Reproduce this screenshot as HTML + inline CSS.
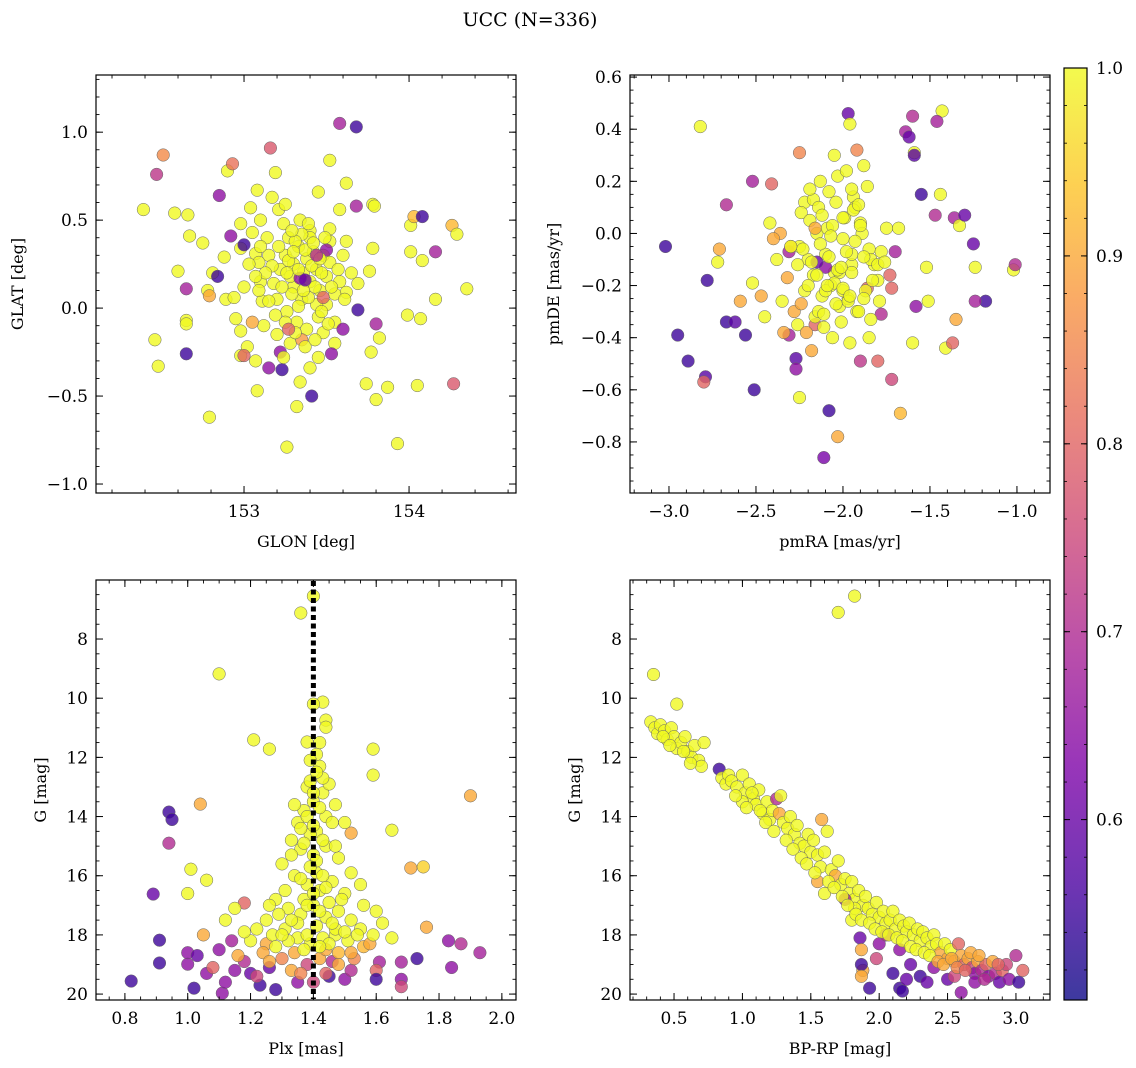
<!DOCTYPE html>
<html><head><meta charset="utf-8"><style>
body{margin:0;background:#fff}
svg{display:block;font-family:"DejaVu Serif","Liberation Serif",serif}
</style></head><body>
<svg id="fig" width="1136" height="1068" viewBox="0 0 1136 1068" xmlns="http://www.w3.org/2000/svg">
<rect width="1136" height="1068" fill="#fff"/>
<text x="530" y="26" font-size="19" text-anchor="middle">UCC (N=336)</text>
<defs><linearGradient id="cbg" x1="0" y1="1" x2="0" y2="0">
<stop offset="0" stop-color="#0d0887"/><stop offset="0.125" stop-color="#4c02a1"/><stop offset="0.25" stop-color="#7e03a8"/><stop offset="0.375" stop-color="#a92395"/><stop offset="0.5" stop-color="#cc4778"/><stop offset="0.625" stop-color="#e66c5c"/><stop offset="0.75" stop-color="#f89540"/><stop offset="0.875" stop-color="#fdc527"/><stop offset="1" stop-color="#f0f921"/>
</linearGradient></defs>
<g id="layer"></g>
</svg>
<script>
// Panel 1: GLON vs GLAT
const p1x=[152.39,152.51,152.47,152.46,152.48,152.58,152.60,152.65,152.65,152.66,152.67,152.65,152.65,152.75,152.78,152.79,152.79,152.81,152.85,152.84,152.88,152.90,152.93,152.89,152.94,152.95,152.92,152.98,152.98,152.98,152.98,153.02,153.00,153.07,153.04,153.05,153.07,153.08,153.10,153.09,153.10,153.11,153.08,153.15,153.16,153.17,153.19,153.21,153.25,153.23,153.26,153.32,153.34,153.40,153.41,153.45,153.50,153.52,153.58,153.68,153.62,153.58,153.45,153.40,153.52,153.62,153.68,153.78,153.79,153.78,153.76,153.69,153.62,153.69,153.80,153.77,153.82,153.74,153.80,153.87,153.93,153.99,154.05,154.07,154.01,154.01,154.03,154.08,154.08,154.16,154.16,154.26,154.29,154.35,154.27,
153.25,153.30,153.33,153.36,153.38,153.40,153.42,153.44,153.46,153.48,153.35,153.30,153.28,153.22,153.20,153.18,153.15,153.26,153.32,153.38,153.45,153.50,153.52,153.55,153.58,153.40,153.35,153.27,153.44,153.12,153.20,153.28,153.48,153.55,153.60,153.14,153.10,153.24,153.52,153.34,153.34,153.22,153.50,153.60,153.05,153.35,153.48,
153.21,153.27,153.31,153.37,153.41,153.47,153.53,153.29,153.33,153.39,153.43,153.47,153.25,153.31,153.37,153.43,153.17,153.13,153.23,153.19,153.15,153.29,153.39,153.49,153.57,153.61,153.55,153.24,153.33,153.36,153.42,153.30,153.26,153.46,153.51,153.09,153.07,153.03,153.00,153.65,153.37,153.44,153.27,153.53,153.00];
const p1y=[0.56,0.87,0.76,-0.18,-0.33,0.54,0.21,0.11,-0.26,0.53,0.41,-0.07,-0.09,0.37,0.10,0.07,-0.62,0.20,0.64,0.18,0.29,0.78,0.82,0.05,0.06,-0.06,0.41,0.34,0.48,-0.13,-0.27,-0.22,-0.27,-0.30,0.57,0.43,0.31,0.67,0.50,0.26,0.15,0.04,-0.47,-0.34,0.91,0.63,0.77,0.56,0.59,-0.35,-0.79,-0.56,-0.42,-0.34,-0.50,-0.28,0.02,0.84,1.05,1.03,0.71,0.56,0.66,0.44,0.38,0.38,0.58,0.59,0.58,0.34,0.21,0.14,0.09,-0.01,-0.09,-0.25,-0.17,-0.43,-0.52,-0.45,-0.77,-0.04,-0.44,-0.06,0.32,0.47,0.52,0.52,0.27,0.05,0.32,0.47,0.42,0.11,-0.43,
0.30,0.25,0.35,0.20,0.28,0.15,0.32,0.22,0.10,0.30,0.05,0.12,0.18,0.22,0.05,0.14,0.30,-0.02,-0.08,-0.12,-0.05,0.18,0.26,0.08,0.15,0.40,0.42,0.40,0.02,-0.10,-0.15,-0.20,-0.14,-0.08,0.30,0.40,0.35,0.48,0.45,0.50,0.17,-0.25,0.33,-0.12,-0.08,-0.18,0.06,
0.35,0.27,0.38,0.33,0.24,0.20,0.12,0.08,0.01,0.06,0.12,-0.02,-0.08,-0.14,-0.22,-0.18,0.24,0.20,0.12,-0.04,0.04,0.44,0.48,0.40,0.22,0.05,-0.20,-0.28,0.22,0.10,0.37,0.32,0.20,0.28,-0.09,0.10,0.18,0.25,0.12,0.20,0.16,0.30,-0.12,-0.26,0.36];
const p1c=[1,0.86,0.72,1,1,1,1,0.68,0.55,1,1,1,1,1,1,0.9,1,1,0.65,0.55,1,1,0.82,1,1,1,0.65,1,1,1,1,1,0.8,1,1,1,1,1,1,1,1,1,1,0.65,0.78,1,1,1,1,0.55,1,1,1,1,0.55,1,1,1,0.68,0.55,1,1,1,1,1,1,0.68,1,1,1,1,1,1,0.55,0.68,1,1,1,1,1,1,1,1,1,1,1,0.92,0.55,1,1,0.68,0.92,1,1,0.78,
1,1,1,1,1,1,1,1,1,1,1,1,1,1,1,1,1,1,1,1,1,1,1,1,1,1,1,1,1,1,1,1,1,1,1,1,1,1,1,1,0.65,0.65,0.65,0.65,0.9,0.88,0.8,
1,1,1,1,1,1,1,1,1,1,1,1,1,1,1,1,1,1,1,1,1,1,1,1,1,1,1,1,1,1,1,1,1,1,1,1,1,1,1,1,0.6,0.7,0.8,0.65,0.55];
// Panel 2: pmRA vs pmDE
const p2x=[-3.02,-2.95,-2.89,-2.82,-2.79,-2.80,-2.78,-2.71,-2.72,-2.67,-2.67,-2.59,-2.56,-2.52,-2.52,-2.51,-2.47,-2.45,-2.41,-2.42,-2.38,-2.35,-2.31,-2.31,-2.27,-2.25,-2.25,-2.22,-2.17,-2.16,-2.08,-2.03,-2.11,-1.97,-1.96,-1.92,-1.90,-1.86,-1.80,-1.78,-1.72,-1.73,-1.70,-1.64,-1.62,-1.60,-1.59,-1.59,-1.58,-1.60,-1.55,-1.44,-1.47,-1.41,-1.37,-1.36,-1.33,-1.30,-1.18,-1.24,-1.25,-1.24,-1.35,-1.02,-1.01,-1.43,-1.46,-1.52,-1.51,-1.67,-2.62,-2.27,
-2.25,-2.20,-2.15,-2.10,-2.05,-2.00,-1.95,-1.90,-1.85,-1.80,-1.75,-2.22,-2.17,-2.12,-2.07,-2.02,-1.97,-1.92,-1.87,-1.82,-2.28,-2.24,-2.19,-2.14,-2.09,-2.04,-1.99,-1.94,-1.89,-1.84,-1.79,-2.26,-2.21,-2.16,-2.11,-2.06,-2.01,-1.96,-1.91,-1.86,-2.13,-2.08,-2.03,-1.98,-1.93,-1.88,-2.18,-2.02,-1.95,-2.05,-2.32,-2.36,-1.72,-1.68,-2.10,-1.95,-2.00,-2.15,-1.85,-1.78,-2.30,-2.40,
-2.23,-2.18,-2.13,-2.08,-2.03,-1.98,-1.93,-1.88,-1.83,-2.20,-2.15,-2.10,-2.05,-2.00,-1.95,-1.90,-2.12,-2.06,-2.00,-1.94,-1.88,-2.24,-2.14,-2.04,-1.97,-1.84,-2.16,-2.26,-2.30,-1.80,-1.76,-2.01,-2.07,-1.96,-2.11,-1.91,-2.19,-2.09,-2.34,-1.87];
const p2y=[-0.05,-0.39,-0.49,0.41,-0.55,-0.57,-0.18,-0.06,-0.11,0.11,-0.34,-0.26,-0.39,0.20,-0.19,-0.60,-0.24,-0.32,0.19,0.04,-0.10,-0.26,-0.07,-0.39,-0.48,0.31,-0.63,0.12,0.13,-0.35,-0.68,-0.78,-0.86,0.46,0.42,0.32,-0.49,-0.21,-0.49,-0.31,-0.56,-0.16,-0.07,0.39,0.37,0.45,0.31,0.30,-0.28,-0.42,0.15,0.15,0.07,-0.44,-0.42,0.06,0.03,0.07,-0.26,-0.26,-0.04,-0.13,-0.33,-0.14,-0.12,0.47,0.43,-0.13,-0.26,-0.69,-0.34,-0.52,
-0.05,-0.10,0.00,-0.08,-0.15,-0.02,-0.12,0.04,-0.06,-0.18,0.02,-0.22,-0.16,-0.24,-0.20,-0.28,-0.25,-0.30,-0.22,-0.12,-0.30,0.08,0.05,0.10,0.02,0.12,0.06,0.14,0.00,-0.10,-0.26,-0.35,-0.38,-0.32,-0.36,-0.40,-0.34,-0.42,-0.30,0.18,0.20,0.16,0.22,0.24,0.10,0.26,-0.45,-0.15,-0.08,0.30,-0.17,0.00,-0.21,0.02,-0.13,0.17,-0.22,-0.11,-0.40,-0.07,-0.05,
-0.02,-0.06,-0.11,-0.04,-0.09,-0.14,-0.07,-0.03,-0.09,-0.18,-0.20,-0.16,-0.22,-0.19,-0.21,-0.15,0.03,0.07,0.03,0.06,0.09,-0.25,-0.27,-0.30,-0.27,-0.26,-0.33,0.02,-0.12,-0.05,-0.12,-0.11,-0.13,-0.01,-0.24,-0.31,0.11,0.17,-0.20,-0.38];
const p2c=[0.55,0.55,0.55,1,0.58,0.8,0.55,0.9,1,0.7,0.55,0.9,0.55,0.68,1,0.55,0.9,1,0.8,1,1,1,0.68,0.68,0.58,0.85,1,1,1,0.8,0.55,0.9,0.62,0.6,1,0.85,0.72,0.8,0.8,0.7,0.75,0.8,0.68,0.68,0.6,0.7,1,0.58,0.65,1,0.55,1,0.7,1,0.8,0.68,1,0.6,0.55,0.68,0.6,1,0.9,1,0.7,1,0.68,1,1,0.92,0.58,0.65,
1,1,1,1,1,1,1,1,1,1,1,1,1,1,1,1,1,1,1,1,0.9,1,1,1,1,1,1,1,1,1,1,1,0.9,1,1,1,1,1,1,1,1,1,1,1,1,1,0.9,1,1,1,0.9,0.9,0.8,1,0.65,1,1,0.6,1,1,0.9,0.9,
1,1,1,1,1,1,1,1,1,1,1,1,1,1,1,1,1,1,1,1,1,0.9,1,1,1,1,0.9,1,1,1,1,1,1,1,1,1,1,1,0.9,1];
// Panel 3: Plx vs G
const p3x=[1.40,1.36,1.10,1.43,1.44,1.44,1.42,1.38,1.21,1.26,1.59,1.59,1.04,1.90,0.94,0.95,0.94,1.65,1.52,1.01,1.71,1.75,1.00,1.06,0.89,1.18,1.15,1.12,0.91,0.91,0.82,1.02,1.00,1.00,1.11,1.12,1.23,1.28,1.35,1.45,1.50,1.52,1.61,1.68,1.73,1.83,1.84,1.87,1.93,1.76,1.68,1.68,1.60,1.60,1.06,1.08,1.05,1.10,1.15,1.18,1.20,1.25,1.30,1.33,1.38,1.42,1.46,1.48,1.53,1.56,1.58,1.03,1.14,1.16,1.22,1.26,
1.38,1.40,1.42,1.41,1.39,1.43,1.45,1.37,1.35,1.44,1.47,1.50,1.33,1.36,1.40,1.44,1.48,1.52,1.30,1.34,1.38,1.42,1.46,1.50,1.55,1.28,1.32,1.36,1.40,1.44,1.48,1.52,1.56,1.60,1.25,1.22,1.20,1.27,1.31,1.35,1.39,1.43,1.47,1.51,1.55,1.59,1.62,1.65,1.18,1.24,1.34,1.44,1.52,1.41,1.39,1.37,1.45,1.28,1.47,1.33,1.41,1.40,1.43,1.36,
1.39,1.41,1.40,1.42,1.38,1.40,1.43,1.37,1.41,1.39,1.43,1.36,1.40,1.44,1.38,1.42,1.35,1.41,1.46,1.38,1.32,1.45,1.29,1.49,1.31,1.47,1.34,1.46,1.30,1.54,1.26,1.50,1.37,1.42,1.33,1.48,1.26,1.36,1.44,1.40];
const p3y=[6.55,7.12,9.18,10.13,10.74,10.98,11.5,11.48,11.41,11.72,11.72,12.6,13.58,13.3,13.85,14.1,14.9,14.46,14.56,15.78,15.74,15.7,16.6,16.15,16.62,16.92,17.1,17.5,18.18,18.95,19.56,19.8,18.99,18.6,19.97,19.6,19.7,19.85,19.6,19.4,19.5,19.2,18.92,18.92,18.8,18.2,19.1,18.3,18.6,17.74,19.5,19.75,19.2,19.5,19.3,19.1,18.0,18.5,19.2,18.9,19.3,18.3,18.8,19.2,19.0,18.8,18.9,18.6,18.8,18.4,18.3,18.7,18.2,18.7,19.4,19.1,
13.0,13.5,12.3,11.9,12.8,13.2,12.9,13.8,14.2,14.0,13.6,14.2,14.8,15.1,15.3,15.0,15.4,15.9,15.6,16.0,16.3,16.5,16.2,16.6,16.3,16.8,17.1,17.3,17.0,17.4,17.2,17.5,17.0,17.2,17.5,17.8,18.2,18.0,17.8,18.1,18.3,18.1,18.0,18.2,17.8,18.0,17.6,18.1,17.9,18.6,18.6,18.5,18.6,14.5,14.6,16.8,16.9,18.4,17.8,15.3,15.9,10.2,12.7,14.4,
12.1,12.5,13.2,13.7,14.0,14.3,14.8,14.9,15.5,15.7,16.0,16.1,16.6,16.4,17.0,17.2,17.6,17.7,17.6,18.0,18.2,18.3,17.3,16.8,16.5,15.0,13.6,14.2,18.0,18.0,17.0,17.9,18.5,18.4,17.5,19.0,18.9,19.3,19.3,19.6];
const p3c=[1,1,1,1,1,1,1,1,1,1,1,1,0.9,0.9,0.55,0.55,0.7,1,0.9,1,0.9,0.95,1,1,0.6,0.8,1,1,0.55,0.55,0.55,0.55,0.65,0.65,0.65,0.65,0.55,0.55,0.65,0.55,0.65,0.7,0.68,0.68,0.55,0.65,0.65,0.7,0.68,0.9,0.65,0.75,0.8,0.55,0.65,0.8,0.9,0.65,0.65,0.7,0.6,0.9,0.85,0.9,0.75,0.9,0.7,0.92,0.85,0.92,0.9,0.6,0.68,0.9,0.75,0.6,
1,1,1,1,1,1,1,1,1,1,1,1,1,1,1,1,1,1,1,1,1,1,1,1,1,1,1,1,1,1,1,1,1,1,1,1,1,1,1,1,1,1,1,1,1,1,1,1,1,0.9,0.9,0.9,0.9,1,1,1,1,1,1,1,1,1,1,1,
1,1,1,1,1,1,1,1,1,1,1,1,1,1,1,1,1,1,1,1,1,1,1,1,1,1,1,1,1,1,1,1,1,1,1,0.9,0.9,0.85,0.8,0.75];
// Panel 4: BP-RP vs G
const p4x=[1.82,1.70,0.35,0.52,0.33,0.36,0.38,0.40,0.43,0.45,0.48,0.50,0.52,0.55,0.58,0.60,0.63,0.65,0.68,0.70,0.72,0.83,0.85,0.88,0.90,0.92,0.96,1.00,1.02,1.05,1.08,1.10,1.00,1.12,1.15,1.18,1.20,1.22,1.25,1.27,1.30,1.28,1.33,1.35,1.38,1.40,1.42,1.45,1.48,1.50,1.52,1.55,1.57,1.60,1.62,1.58,1.65,1.68,1.70,1.72,1.75,1.78,1.80,1.82,1.85,1.88,1.90,1.92,1.95,1.98,2.00,2.03,2.05,2.08,2.10,2.12,2.15,2.18,2.20,2.22,2.25,2.28,2.30,2.32,2.35,2.38,2.40,2.42,2.45,2.48,2.50,2.52,2.55,2.58,2.60,2.62,2.65,2.68,2.70,2.72,2.75,2.78,2.80,2.83,2.85,2.88,2.90,2.93,2.95,3.00,3.02,3.05,1.55,1.60,1.75,1.80,1.82,
1.86,1.87,1.88,1.87,1.93,1.98,2.00,2.10,2.15,2.17,2.20,2.23,2.30,2.35,2.40,2.50,2.60,2.55,2.70,2.15,2.05,1.87,
0.42,0.47,0.57,0.62,0.95,1.03,1.07,1.13,1.17,1.23,1.32,1.37,1.43,1.47,1.53,1.63,1.67,1.73,1.77,1.83,1.87,1.93,1.97,2.02,2.07,2.13,2.17,2.23,2.27,2.33,2.37,2.43,2.47,2.53,2.57,2.63,2.67,2.73,2.77,2.87];
const p4y=[6.55,7.1,9.2,10.2,10.8,11.0,11.2,10.9,11.1,11.4,11.0,11.3,11.7,11.5,11.3,11.8,12.0,11.6,12.1,12.3,11.5,12.4,12.7,12.9,12.6,12.8,13.0,12.6,13.2,12.9,13.4,13.6,13.5,13.1,13.9,13.5,14.1,13.8,13.4,13.9,14.2,13.3,14.4,14.0,14.6,14.3,14.9,15.0,14.6,15.2,14.8,15.3,15.7,15.2,14.5,14.1,15.8,16.0,15.5,16.3,16.1,16.6,16.2,16.8,16.5,17.0,16.7,17.1,17.3,16.9,17.4,17.2,17.6,17.5,17.2,17.8,17.5,17.7,17.9,17.6,18.0,17.8,18.2,17.9,18.1,18.4,18.0,18.3,18.6,18.3,18.8,18.5,18.9,18.3,18.7,19.0,18.8,19.1,19.3,18.9,19.2,19.0,19.4,18.9,19.3,19.6,19.2,19.0,19.5,18.7,19.6,19.2,16.2,16.6,16.8,17.5,17.1,
18.1,18.5,19.2,19.0,19.8,18.8,18.3,19.3,19.8,19.9,19.5,19.0,19.4,19.6,19.1,19.5,19.95,19.4,19.6,18.5,18.0,19.4,
11.3,11.6,11.8,12.2,13.3,13.7,13.2,13.8,14.2,14.5,14.8,15.1,15.4,15.6,15.9,16.2,16.4,16.7,17.0,17.3,17.5,17.6,17.8,17.9,18.0,18.1,18.2,18.4,18.5,18.6,18.7,18.9,19.0,18.8,19.1,19.2,18.6,18.7,19.5,19.0];
const p4c=[1,1,1,1,1,1,1,1,1,1,1,1,1,1,1,1,1,1,1,1,1,0.55,1,1,1,1,1,1,1,1,1,1,1,1,1,1,1,1,0.7,0.9,1,1,1,1,1,1,1,1,1,1,1,1,1,1,1,0.9,1,0.9,1,1,1,1,1,1,1,1,1,1,1,1,1,1,1,1,1,1,1,1,1,1,1,1,1,1,1,1,1,1,0.9,1,0.9,1,0.9,0.8,0.9,0.8,0.9,0.75,0.65,0.9,0.7,0.8,0.65,0.9,0.7,0.6,0.8,0.75,0.65,0.7,0.55,0.8,0.9,1,0.68,1,1,
0.6,0.9,0.9,0.55,0.55,0.75,0.65,0.55,0.55,0.55,0.6,0.6,0.55,0.6,0.65,0.6,0.65,0.75,0.65,0.65,0.7,0.9,
1,1,1,1,1,1,1,1,1,1,1,1,1,1,1,1,1,1,1,1,1,1,1,1,1,1,1,1,1,1,1,0.9,0.9,0.9,0.85,0.8,0.9,0.9,0.7,0.8];
// Axis tick values
const ax1xT=[153,154], ax1yT=[-1.0,-0.5,0.0,0.5,1.0];
const ax2xT=[-3.0,-2.5,-2.0,-1.5,-1.0], ax2yT=[-0.8,-0.6,-0.4,-0.2,0.0,0.2,0.4,0.6];
const ax3xT=[0.8,1.0,1.2,1.4,1.6,1.8,2.0], ax3yT=[8,10,12,14,16,18,20];
const ax4xT=[0.5,1.0,1.5,2.0,2.5,3.0], ax4yT=[8,10,12,14,16,18,20];
const cbT=[0.6,0.7,0.8,0.9,1.0];
const plxRef=1.4;
const VMIN=0.504, VMAX=1.0;

const NS='http://www.w3.org/2000/svg';
const layer=document.getElementById('layer');
function mk(tag,attrs,parent){const e=document.createElementNS(NS,tag);for(const k in attrs)e.setAttribute(k,attrs[k]);(parent||layer).appendChild(e);return e;}
const stops=[[0,[13,8,135]],[0.125,[76,2,161]],[0.25,[126,3,168]],[0.375,[169,35,149]],[0.5,[204,71,120]],[0.625,[230,108,92]],[0.75,[248,149,64]],[0.875,[253,197,39]],[1,[240,249,33]]];
function plasma(v){let t=(v-VMIN)/(VMAX-VMIN);t=Math.max(0,Math.min(1,t));for(let i=1;i<stops.length;i++){if(t<=stops[i][0]){const a=stops[i-1],b=stops[i];const f=(t-a[0])/(b[0]-a[0]);const c=a[1].map((x,j)=>Math.round(x+(b[1][j]-x)*f));return `rgb(${c[0]},${c[1]},${c[2]})`;}}return 'rgb(240,249,33)';}
function fmt(v,d){const s=v.toFixed(d);return s.replace('-','\u2212');}

function panel(name,box,xr,yr,xT,yT,xMinor,yMinor,xd,yd,xlab,ylab,px,py,pc,invY){
  const [L,T,R,B]=box;
  const sx=v=>L+(v-xr[0])/(xr[1]-xr[0])*(R-L);
  const sy=invY? (v=>T+(v-yr[0])/(yr[1]-yr[0])*(B-T)) : (v=>B-(v-yr[0])/(yr[1]-yr[0])*(B-T));
  const g=mk('g',{});
  
  
  const clipId=name+'-clip';
  const cp=mk('clipPath',{id:clipId},g);mk('rect',{x:L,y:T,width:R-L,height:B-T},cp);
  const pts=mk('g',{'clip-path':`url(#${clipId})`},g);
  
  
  for(let i=0;i<px.length;i++){
    const c=mk('circle',{cx:sx(px[i]).toFixed(1),cy:sy(py[i]).toFixed(1),r:6.3,fill:plasma(pc[i]),'fill-opacity':0.8,stroke:'#666','stroke-width':0.5},pts);
    
    
  }
  const frame=mk('rect',{x:L,y:T,width:R-L,height:B-T,fill:'none',stroke:'#000','stroke-width':1.2},g);
  
  
  const x0=Math.ceil(xr[0]/xMinor-1e-6),x1=Math.floor(xr[1]/xMinor+1e-6);
  for(let k=x0;k<=x1;k++){const X=sx(k*xMinor);mk('line',{x1:X,y1:B,x2:X,y2:B-3.5,stroke:'#000','stroke-width':0.9},g);mk('line',{x1:X,y1:T,x2:X,y2:T+3.5,stroke:'#000','stroke-width':0.9},g);}
  const ylo=Math.min(yr[0],yr[1]),yhi=Math.max(yr[0],yr[1]);
  const y0=Math.ceil(ylo/yMinor-1e-6),y1=Math.floor(yhi/yMinor+1e-6);
  for(let k=y0;k<=y1;k++){const Y=sy(k*yMinor);mk('line',{x1:L,y1:Y,x2:L+3.5,y2:Y,stroke:'#000','stroke-width':0.9},g);mk('line',{x1:R,y1:Y,x2:R-3.5,y2:Y,stroke:'#000','stroke-width':0.9},g);}
  for(const v of xT){const X=sx(v);mk('line',{x1:X,y1:B,x2:X,y2:B-7,stroke:'#000','stroke-width':1},g);mk('line',{x1:X,y1:T,x2:X,y2:T+7,stroke:'#000','stroke-width':1},g);
    const t=mk('text',{x:X,y:B+24,'font-size':17,'text-anchor':'middle'},g);t.textContent=fmt(v,xd);
    
    }
  for(const v of yT){const Y=sy(v);mk('line',{x1:L,y1:Y,x2:L+7,y2:Y,stroke:'#000','stroke-width':1},g);mk('line',{x1:R,y1:Y,x2:R-7,y2:Y,stroke:'#000','stroke-width':1},g);
    const t=mk('text',{x:L-8,y:Y+6,'font-size':17,'text-anchor':'end'},g);t.textContent=fmt(v,yd);
    
    }
  const xl=mk('text',{x:(L+R)/2,y:B+54,'font-size':16,'text-anchor':'middle'},g);xl.textContent=xlab;
  
  
  const yl=mk('text',{x:0,y:0,'font-size':16,'text-anchor':'middle',transform:`translate(${ylab[1]},${(T+B)/2}) rotate(-90)`},g);yl.textContent=ylab[0];
  
  
  return {sx,sy,g};
}

panel('glon-glat-panel',[96,75,516,493],[152.103,154.648],[-1.051,1.325],ax1xT,ax1yT,0.2,0.1,0,1,'GLON [deg]',['GLAT [deg]',23],p1x,p1y,p1c,false);
panel('pm-panel',[630,75,1050,493],[-3.224,-0.810],[-0.996,0.608],ax2xT,ax2yT,0.1,0.05,1,1,'pmRA [mas/yr]',['pmDE [mas/yr]',559],p2x,p2y,p2c,false);
const P3=panel('plx-g-panel',[96,580,516,1000],[0.708,2.045],[6.005,20.2],ax3xT,ax3yT,0.05,0.5,1,0,'Plx [mas]',['G [mag]',46],p3x,p3y,p3c,true);
panel('cmd-panel',[630,580,1050,1000],[0.178,3.249],[6.005,20.2],ax4xT,ax4yT,0.1,0.5,1,0,'BP-RP [mag]',['G [mag]',580],p4x,p4y,p4c,true);

const vl=mk('line',{x1:P3.sx(plxRef),y1:581,x2:P3.sx(plxRef),y2:999,stroke:'#000','stroke-width':5,'stroke-dasharray':'5,3.5'});



const cbL=1064,cbR=1087,cbT0=68,cbB=1000;
const cy=v=>cbB-(v-VMIN)/(VMAX-VMIN)*(cbB-cbT0);
const cbg=mk('g',{});


mk('rect',{x:cbL,y:cbT0,width:cbR-cbL,height:cbB-cbT0,fill:'url(#cbg)','fill-opacity':0.8},cbg);
mk('rect',{x:cbL,y:cbT0,width:cbR-cbL,height:cbB-cbT0,fill:'none',stroke:'#000','stroke-width':1.2},cbg);
for(let k=26;k<=50;k++){const Y=cy(k*0.02);mk('line',{x1:cbR,y1:Y,x2:cbR-3,y2:Y,stroke:'#000','stroke-width':0.8},cbg);mk('line',{x1:cbL,y1:Y,x2:cbL+3,y2:Y,stroke:'#000','stroke-width':0.8},cbg);}
for(const v of cbT){const Y=cy(v);mk('line',{x1:cbR,y1:Y,x2:cbR-6,y2:Y,stroke:'#000','stroke-width':1},cbg);mk('line',{x1:cbL,y1:Y,x2:cbL+6,y2:Y,stroke:'#000','stroke-width':1},cbg);
  const t=mk('text',{x:cbR+9,y:Y+6,'font-size':17},cbg);t.textContent=v.toFixed(1);
  
  }
</script>
</body></html>
